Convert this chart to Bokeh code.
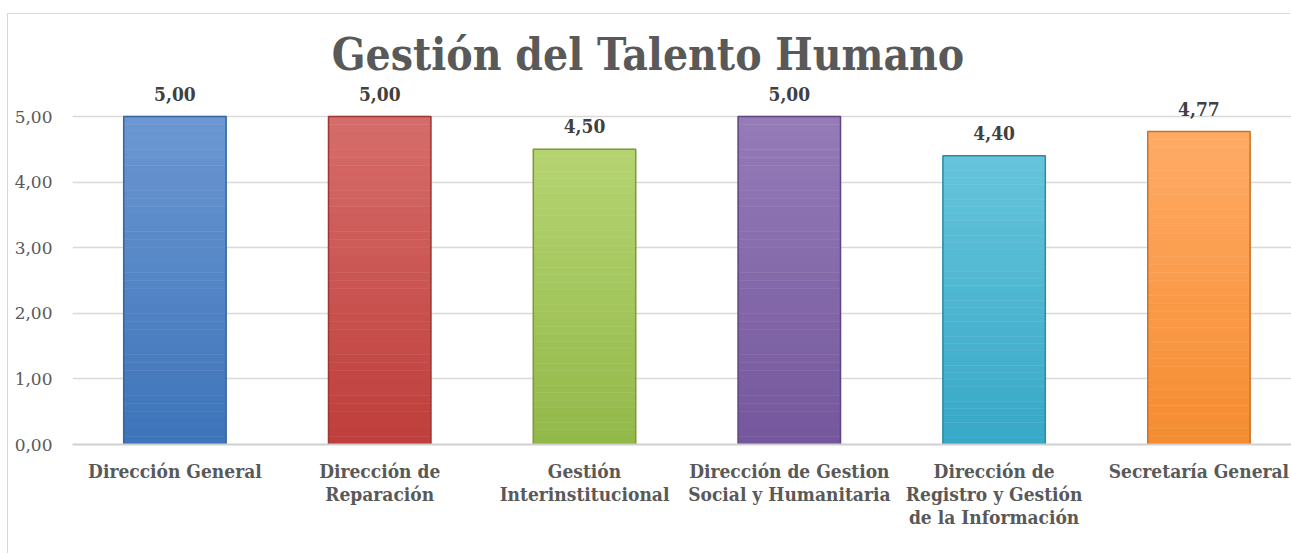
from bokeh.plotting import figure
from bokeh.models import Range1d, FixedTicker, Label, ColumnDataSource
from bokeh.core.properties import value
from bokeh.embed import file_html
from bokeh.resources import INLINE

# ---- data ----
categories = [
    "Dirección General",
    "Dirección de\nReparación",
    "Gestión\nInterinstitucional",
    "Dirección de Gestion\nSocial y Humanitaria",
    "Dirección de\nRegistro y Gestión\nde la Información",
    "Secretaría General",
]
values = [5.00, 5.00, 4.50, 5.00, 4.40, 4.77]
top_colors = ["#6C97D2", "#D66D6A", "#B5D471", "#957CB8", "#66C4DB", "#FFAB66"]
bottom_colors = ["#3D74B9", "#BE3E3B", "#93B84A", "#74579C", "#37A8C7", "#F58C30"]
bar_edges = ["#36659F", "#9E3634", "#7A9A3C", "#5F4682", "#2B8BA6", "#C8722A"]
y_ticks = [0, 1, 2, 3, 4, 5]
y_tick_labels = ["0,00", "1,00", "2,00", "3,00", "4,00", "5,00"]
title_text = "Gestión del Talento Humano"

SERIF = "'DejaVu Serif Condensed', 'DejaVu Serif', serif"

x_pos = [i + 0.5 for i in range(len(categories))]
labels = [f"{v:.2f}".replace(".", ",") for v in values]


def hex2rgb(h):
    h = h.lstrip("#")
    return tuple(int(h[i:i + 2], 16) for i in (0, 2, 4))


def mix(c1, c2, t):
    a, b = hex2rgb(c1), hex2rgb(c2)
    return "#%02x%02x%02x" % tuple(round(a[i] + (b[i] - a[i]) * t) for i in range(3))


# gradient bands (styling only, derived from the values)
N = 40
band = dict(left=[], right=[], bottom=[], top=[], color=[])
for xc, v, tc, bc in zip(x_pos, values, top_colors, bottom_colors):
    for k in range(N):
        band["left"].append(xc - 0.25)
        band["right"].append(xc + 0.25)
        band["bottom"].append(v * k / N)
        band["top"].append(v * (k + 1) / N)
        band["color"].append(mix(bc, tc, (k + 0.5) / N))

src = ColumnDataSource(dict(x=x_pos, top=values, edge=bar_edges, label=labels))

p = figure(
    width=1283, height=540,
    x_range=Range1d(0, 5.952), y_range=Range1d(0, 6.555),
    output_backend="svg", toolbar_location=None,
    min_border_left=64, min_border_right=0, min_border_top=0, min_border_bottom=110,
)
p.styles = {"margin-top": "14px", "margin-left": "8px", "box-shadow": "-1px -1px 0 0 #d9d9d9"}
p.outline_line_color = None
p.background_fill_color = "white"
p.border_fill_color = "white"

# grid
p.xgrid.grid_line_color = None
p.ygrid.ticker = FixedTicker(ticks=y_ticks)
p.ygrid.grid_line_color = "#d9d9d9"
p.ygrid.grid_line_width = 1.5

# y axis
p.yaxis.ticker = FixedTicker(ticks=y_ticks)
p.yaxis.major_label_overrides = {t: l for t, l in zip(y_ticks, y_tick_labels)}
p.yaxis.axis_line_color = None
p.yaxis.major_tick_line_color = None
p.yaxis.major_tick_out = 0
p.yaxis.minor_tick_line_color = None
p.yaxis.minor_tick_out = 0
p.yaxis.major_label_text_font = "DejaVu Serif"
p.yaxis.major_label_text_font_size = "17px"
p.yaxis.major_label_text_color = "#595959"
p.yaxis.major_label_standoff = 20

# x axis
p.xaxis.ticker = FixedTicker(ticks=x_pos)
p.xaxis.major_label_overrides = {x: c for x, c in zip(x_pos, categories)}
p.xaxis.axis_line_color = "#d0d0d0"
p.xaxis.axis_line_width = 2
p.xaxis.major_tick_line_color = None
p.xaxis.major_tick_out = 0
p.xaxis.minor_tick_line_color = None
p.xaxis.minor_tick_out = 0
p.xaxis.major_label_text_font = SERIF
p.xaxis.major_label_text_font_style = "bold"
p.xaxis.major_label_text_font_size = "19px"
p.xaxis.major_label_text_color = "#595959"
p.xaxis.major_label_text_line_height = 1.05
p.xaxis.major_label_standoff = 15

# bars: gradient fill + outline
p.quad(left="left", right="right", bottom="bottom", top="top", source=ColumnDataSource(band),
       fill_color="color", line_color="color", line_width=0.5)
p.vbar(x="x", top="top", width=0.5, source=src, fill_color=None, line_color="edge", line_width=1.5)

# data labels
p.text(x="x", y="top", text="label", source=src, text_align="center", text_baseline="middle",
       y_offset=-23, text_font=value(SERIF), text_font_style="bold", text_font_size="19px",
       text_color="#404040")

# title
title = Label(x=2.81, y=5.946, text=title_text, text_align="center", text_baseline="middle",
              text_font=SERIF, text_font_style="bold", text_font_size="44px", text_color="#595959")
p.add_layout(title)

open("out.html", "w").write(file_html(p, INLINE))
